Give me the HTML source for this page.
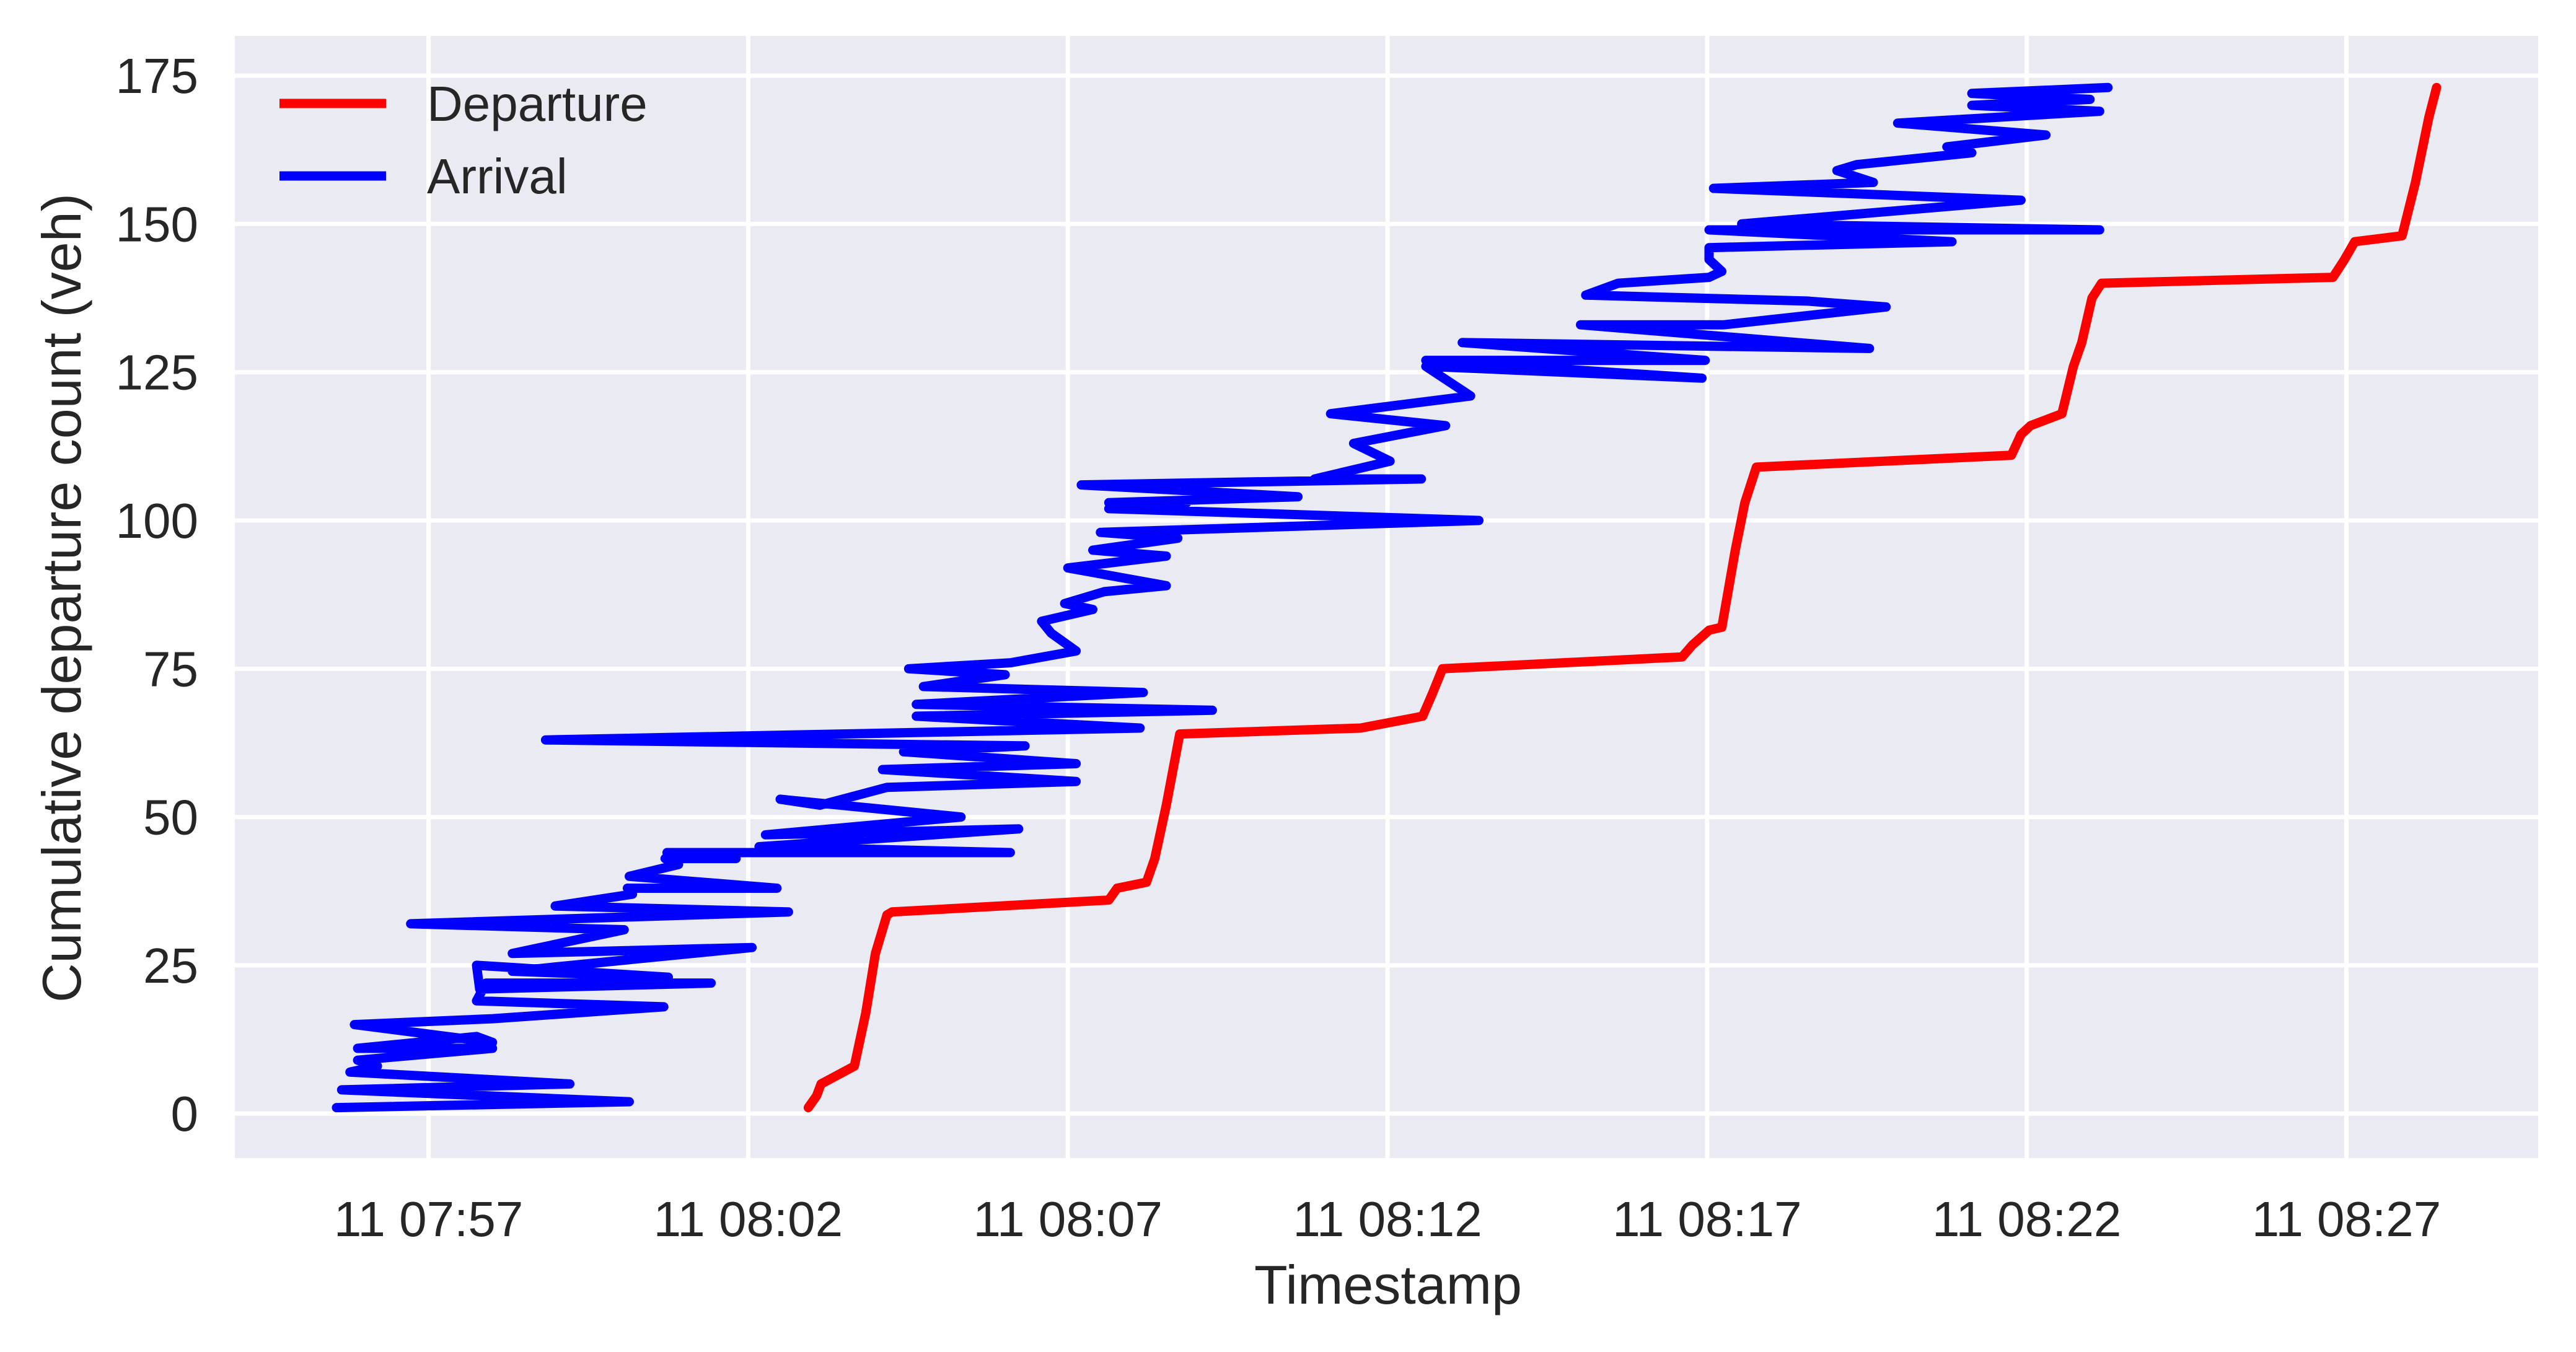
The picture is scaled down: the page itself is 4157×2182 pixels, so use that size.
<!DOCTYPE html>
<html><head><meta charset="utf-8">
<style>html,body{margin:0;padding:0;background:#fff;}svg{display:block;font-family:"Liberation Sans",Arial,sans-serif;}</style>
</head><body>
<svg id="chart" width="4157" height="2182" viewBox="0 0 4157 2182" xmlns="http://www.w3.org/2000/svg">
<rect x="0" y="0" width="4157" height="2182" fill="#ffffff"/>
<rect x="379" y="58" width="3717" height="1811" fill="#eaeaf2"/>
<g id="grid"></g><g id="series"></g><g id="ticks"></g>
<text x="2240" y="2104" font-size="88" fill="#262626" text-anchor="middle">Timestamp</text>
<text transform="translate(130,965) rotate(-90)" font-size="88" fill="#262626" text-anchor="middle">Cumulative departure count (veh)</text>
<g>
<line x1="451" y1="167" x2="623" y2="167" stroke="#ff0000" stroke-width="15"/>
<text x="689" y="195" font-size="80" fill="#262626">Departure</text>
<line x1="451" y1="284" x2="623" y2="284" stroke="#0000ff" stroke-width="15"/>
<text x="689" y="312" font-size="80" fill="#262626">Arrival</text>
</g>
</svg>
<script>
// minutes since 07:57
const xTickValues=[0,5,10,15,20,25,30];
const xTickLabels=["11 07:57","11 08:02","11 08:07","11 08:12","11 08:17","11 08:22","11 08:27"];
const yTickValues=[0,25,50,75,100,125,150,175];
const depTimes=[5.94,6.07,6.14,6.66,6.84,6.99,7.17,7.25,10.64,10.77,11.23,11.36,11.54,11.75,14.58,15.55,15.71,15.86,19.61,19.77,20.03,20.23,20.44,20.59,20.77,24.76,24.91,25.06,25.55,25.73,25.86,26.02,26.17,29.79,29.97,30.13,30.87,31.08,31.29,31.41];
const depCounts=[1,3,5,8,17,27,33.5,34,36,38,39,43,52,64,65,67,71,75,77,79,81.5,82,95,103,109,111,114.5,116,118,126,130,137.5,140,141,144,147,148,157,168,173];
const arrTimes=[-1.44,3.14,-1.36,2.21,-1.23,-0.80,-1.11,1.00,-1.11,0.75,1.00,-1.16,1.00,3.68,0.75,0.90,4.42,0.80,0.75,3.75,1.31,5.06,1.31,3.06,-0.28,5.63,1.98,3.19,3.11,5.45,3.14,3.91,3.70,4.81,3.73,9.10,5.17,9.23,5.27,8.33,5.50,6.12,7.17,10.13,7.10,10.13,7.43,9.33,1.83,11.13,7.63,12.26,7.63,11.18,7.74,9.02,7.51,9.10,10.13,9.74,9.59,10.39,9.95,10.57,11.54,10.00,11.54,10.39,11.72,10.51,16.43,10.64,11.86,10.64,13.60,10.21,15.53,13.86,15.04,14.47,15.91,14.11,16.30,15.60,19.92,15.60,19.97,16.17,22.54,18.02,20.26,22.80,21.57,18.10,18.61,20.03,20.23,20.03,20.03,23.83,20.03,26.14,20.54,24.91,20.10,22.60,22.03,22.34,24.14,23.75,25.30,22.98,26.14,24.14,25.99,24.14,26.27];
const arrCounts=[1,2,4,5,7,8,9,11,11,13,12,15,16,18,19,22,22,21,25,23,24,28,27,31,32,34,35,37,38,38,40,42,43,43,44,44,45,48,47,50,53,52,55,56,58,59,61,62,63,65,67,68,69,71,72,74,75,76,78,81,83,85,86,88,89,92,94,95,97,98,100,102,103,103,104,106,107,107,110,113,116,118,121,126,124,127,127,130,129,133,133,136,137,138,140,141,142,144,146,147,149,149,150,154,156,157,159,160,162,163,165,167,169,170,171,172,173];
const X0=-3.03,X1=33.0,Y0=-7.5,Y1=181.7,PL=379,PR=4096,PT=58,PB=1869;
function sx(t){return PL+(t-X0)/(X1-X0)*(PR-PL);}
function sy(c){return PB-(c-Y0)/(Y1-Y0)*(PB-PT);}
const NS="http://www.w3.org/2000/svg";
const grid=document.getElementById('grid'),ticks=document.getElementById('ticks'),series=document.getElementById('series');
function mk(tag,attrs,parent){const e=document.createElementNS(NS,tag);for(const k in attrs)e.setAttribute(k,attrs[k]);parent.appendChild(e);return e;}
xTickValues.forEach((v,i)=>{
  const g=mk('line',{x1:sx(v),x2:sx(v),y1:PT,y2:PB,stroke:'#fff','stroke-width':7},grid);
  
  
  const t=mk('text',{x:sx(v),y:1995,'font-size':80,fill:'#262626','text-anchor':'middle'},ticks);
  t.textContent=xTickLabels[i];
  
  
});
yTickValues.forEach(v=>{
  const g=mk('line',{x1:PL,x2:PR,y1:sy(v),y2:sy(v),stroke:'#fff','stroke-width':7},grid);
  
  
  const t=mk('text',{x:320,y:sy(v)+28,'font-size':80,fill:'#262626','text-anchor':'end'},ticks);
  t.textContent=String(v);
  
  
});
function path(ts,cs,color,name){
  const d=ts.map((t,i)=>(i?'L':'M')+sx(t).toFixed(1)+','+sy(cs[i]).toFixed(1)).join('');
  const p=mk('path',{d:d,fill:'none',stroke:color,'stroke-width':15,'stroke-linejoin':'round','stroke-linecap':'round'},series);
  
  
}
path(arrTimes,arrCounts,'#0000ff','arrival-line');
path(depTimes,depCounts,'#ff0000','departure-line');
</script>
</body></html>
